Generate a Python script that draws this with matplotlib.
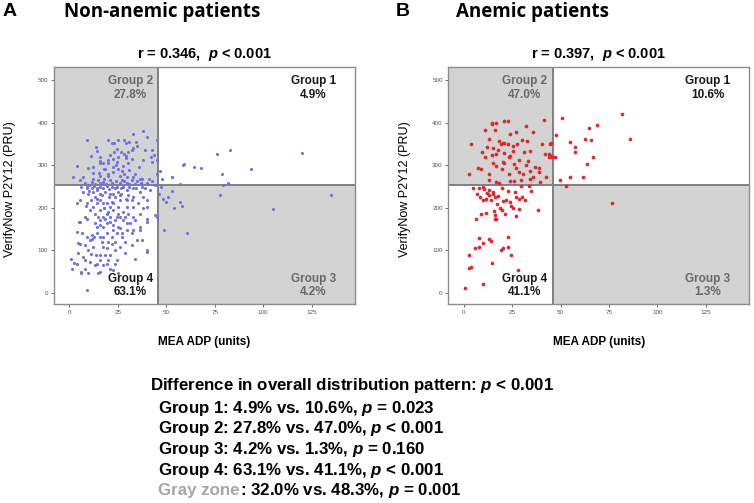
import matplotlib
matplotlib.use("Agg")
import matplotlib.pyplot as plt
from matplotlib.patches import Rectangle

plt.rcParams['font.family'] = ['Liberation Sans', 'DejaVu Sans']
plt.rcParams['mathtext.fontset'] = 'custom'
plt.rcParams['mathtext.it'] = 'Liberation Sans:italic:bold'
plt.rcParams['mathtext.rm'] = 'Liberation Sans:bold'
plt.rcParams['mathtext.bf'] = 'Liberation Sans:bold'

# ---------------- data ----------------
mea_cutoff = 46
pru_cutoff = 252
x_ticks = [0, 25, 50, 75, 100, 125]
y_ticks = [0, 100, 200, 300, 400, 500]

panel_letters = ["A", "B"]
panel_titles = ["Non-anemic patients", "Anemic patients"]
corr_r = ["0.346", "0.397"]
corr_p = ["< 0.001", "< 0.001"]
group_names = ["Group 1", "Group 2", "Group 3", "Group 4"]
nonanemic_pct = ["4.9%", "27.8%", "4.2%", "63.1%"]
anemic_pct = ["10.6%", "47.0%", "1.3%", "41.1%"]
x_label = "MEA ADP (units)"
y_label = "VerifyNow P2Y12 (PRU)"

# Non-anemic patients (MEA ADP, PRU)
nonanemic_g1 = [(46.8, 285), (48, 267), (53, 273), (59, 303), (64.2, 295), (68, 293), (76, 325),
                (82.9, 336), (79, 280), (81.9, 259), (93.8, 290), (119.9, 329), (57, 256), (79.5, 254),
                (52.8, 272), (58.9, 301)]
nonanemic_g2 = [(9.3, 359), (37.9, 381), (33, 373), (19.8, 359), (25.3, 359), (28.2, 359), (45.5, 359),
                (40, 367), (34.4, 355), (23.3, 351), (29.3, 351), (35, 345), (14.1, 334), (26.5, 331),
                (30.5, 331), (39, 335), (4.1, 297), (9.8, 294), (11.2, 321), (15.8, 304), (19.8, 312),
                (19.8, 304), (22.7, 315), (25.3, 318), (28.2, 326), (29.3, 317), (32.2, 315), (35.8, 296),
                (37.9, 312), (42.5, 308), (45.1, 312), (43.8, 323), (2, 272), (7.2, 271), (12.4, 282),
                (15.5, 282), (18, 268), (22.7, 284), (25.3, 292), (28, 280), (31, 288), (33.9, 280),
                (37.6, 268), (41, 268), (45.5, 280), (8, 258), (11.5, 261), (15, 264), (17.6, 261),
                (21, 266), (24.1, 263), (27, 266), (29.6, 258), (32.2, 264), (34.8, 263), (36.5, 268),
                (40, 258), (42.5, 263), (5.5, 266), (15.8, 274), (20, 274), (26, 274), (30, 271),
                (32.7, 272), (18.4, 292), (22.4, 296), (27.5, 297), (30.5, 304), (24.4, 308), (21, 323),
                (15.8, 309), (12.4, 296), (24.4, 339), (21.9, 351), (32.2, 335), (42.5, 335), (30.9, 355),
                (17.6, 304), (16, 258), (19, 256), (22, 259), (26, 257), (28, 262), (13, 256), (10, 254),
                (31, 256), (34, 255), (37, 257), (44, 254), (12, 268), (20, 280), (27, 285), (18, 290),
                (24, 300), (29, 322), (16, 318), (14, 342), (23, 330), (33, 340), (42, 320)]
nonanemic_g3 = [(46.5, 233), (53, 240), (51.1, 225), (50, 213), (57.1, 213), (58, 204), (54, 200),
                (77.9, 230), (105, 196), (134.9, 229), (49, 148), (60.9, 140), (47.1, 249), (48.5, 220)]
nonanemic_g4 = [(0.9, 80), (1.5, 56), (2.4, 70), (4.1, 68), (5.9, 49), (6, 45), (8.1, 76), (9.3, 7),
                (8.1, 56), (11, 90), (4.3, 117), (5.5, 115), (4.1, 143), (5.2, 165), (9, 173), (4.1, 211),
                (5.5, 219), (8.6, 204), (9.3, 211), (10.3, 238), (9.3, 245), (13.3, 225), (12.7, 250),
                (14.5, 241), (15.8, 217), (17.2, 210), (17.9, 198), (19.3, 186), (21, 202), (21.9, 213),
                (23.6, 225), (25.3, 202), (26.5, 233), (29.3, 221), (29.6, 241), (32.2, 217), (33, 202),
                (36.5, 237), (38.2, 225), (39, 245), (40, 202), (44.2, 182), (45.1, 178), (40, 174),
                (40, 166), (36.5, 155), (33.9, 170), (30.5, 184), (27.9, 170), (24.4, 178), (21, 166),
                (17.6, 155), (14.1, 155), (15.8, 170), (14.6, 178), (11.5, 127), (12.7, 131), (14.1, 139),
                (15.8, 131), (16.7, 119), (19.3, 139), (21.9, 131), (24.4, 139), (27, 131), (29.6, 147),
                (32.2, 139), (36.5, 147), (37.4, 123), (40, 100), (40, 96), (33.9, 80), (28.7, 93),
                (26.2, 108), (23.6, 100), (21, 88), (18.4, 88), (15.8, 88), (24.4, 76), (23.6, 68),
                (20.1, 76), (19.3, 68), (15.8, 49), (14.6, 45), (25.3, 45), (10.7, 123), (8.1, 111),
                (9.8, 100), (12.4, 108), (13.8, 88), (17.4, 108), (19.3, 104), (21.9, 115), (23.6, 119),
                (13.3, 186), (15.8, 194), (17.6, 178), (20.1, 190), (22.4, 194), (25.3, 186), (27.9, 190),
                (29.6, 202), (15.8, 233), (18.4, 237), (21, 233), (23.6, 245), (25.3, 237), (27.9, 249),
                (31, 249), (34.4, 245), (15.8, 249), (19.3, 250), (21.9, 249), (12.4, 237), (11.4, 217),
                (14.1, 210), (19.3, 210), (22.7, 210), (26.2, 217), (10.7, 194), (8.1, 178), (13.3, 163),
                (15.8, 159), (19.3, 163), (22.7, 159), (26.2, 151), (29.6, 163), (33, 178), (36.5, 186),
                (38.2, 198), (35.6, 210), (33, 225), (30.5, 229), (5.5, 167), (6.4, 139), (9, 131),
                (7.2, 84), (10.7, 72), (13.3, 64), (15.8, 76), (17.6, 64), (21, 56), (22.7, 53),
                (14.1, 68), (4.6, 92), (9.8, 45), (11.5, 135), (17.6, 131), (20.1, 119), (18.4, 174),
                (21, 178), (23.6, 170), (26.2, 178), (28.7, 178), (31.5, 163), (33, 147), (34.8, 123),
                (32.2, 111), (28.7, 119), (27, 139), (25.3, 155), (22.7, 147), (17.9, 198), (14.1, 221),
                (16.9, 229), (20.3, 225), (22.4, 233), (26, 229), (29.6, 217), (12.4, 202), (9.8, 233),
                (7.2, 237), (6.2, 249), (9, 249), (11.5, 245), (14.1, 246), (17.6, 245), (20.3, 243),
                (24.4, 249), (26.5, 245), (33, 245), (37.4, 249), (41.7, 241), (40, 217)]

# Anemic patients (MEA ADP, PRU)
anemic_g1 = [(47.8, 371), (54.7, 354), (57.6, 342), (57.6, 330), (64.7, 387), (68.6, 394), (62.6, 361),
             (65.5, 358), (66.7, 320), (63.5, 302), (85.7, 362), (61.8, 273), (54.7, 273), (49.7, 264),
             (81.7, 421), (50.7, 410), (47.0, 318)]
anemic_g2 = [(14.5, 396), (16.7, 400), (20.7, 404), (11, 382), (16.4, 382), (24, 374), (27, 377),
             (32, 392), (41.7, 406), (12.9, 361), (18.4, 357), (20.2, 351), (21, 353), (19.3, 349),
             (22.8, 349), (3.8, 349), (11.9, 343), (15, 341), (25.7, 344), (32.9, 357), (40.7, 349),
             (44.7, 349), (16.7, 327), (21, 329), (25.3, 334), (31, 331), (34, 334), (41.9, 326),
             (44.3, 327), (11, 318), (14.5, 323), (23.3, 319), (28.8, 312), (15, 305), (20.2, 308),
             (21, 304), (7.2, 294), (9, 290), (16.7, 298), (27, 294), (32.2, 300), (39.1, 294),
             (44.3, 319), (2.6, 278), (13.3, 280), (23.3, 279), (28.8, 284), (30.5, 280), (34.3, 287),
             (38.8, 283), (13, 265), (18.4, 258), (16.7, 261), (26.2, 263), (29.7, 265), (34, 267),
             (35.7, 272), (39.5, 261), (42.6, 272), (14.7, 400), (22.8, 403), (44.9, 351), (44.9, 321),
             (45.5, 318), (18, 336), (24, 322), (27.5, 350), (30, 360), (36, 378), (9.5, 330), (20, 290),
             (26, 302), (33, 310), (37, 296), (24, 262)]
anemic_g3 = [(52.6, 250), (76.8, 210)]
anemic_g4 = [(4.7, 246), (7.8, 247), (10.7, 243), (13, 241), (15, 237), (6.7, 232), (8.6, 225),
             (11.6, 221), (13.3, 229), (15, 233), (16.4, 224), (9.8, 218), (14.1, 218), (20.2, 216),
             (21.9, 218), (26.6, 236), (29.7, 250), (33.6, 251), (28.8, 221), (30.1, 225), (31.9, 218),
             (18.8, 199), (19.8, 194), (24.4, 203), (25.7, 199), (28.4, 197), (15.9, 193), (11.6, 188),
             (9, 185), (16, 182), (16.7, 174), (16.4, 172), (21.6, 184), (27, 180), (38.3, 194),
             (6.4, 172), (8.1, 129), (9.8, 117), (12.9, 127), (14.1, 122), (22.8, 130), (6, 105),
             (7.8, 107), (19.3, 101), (20.2, 105), (22.8, 107), (24.5, 88), (2.6, 88), (14.7, 70),
             (3.8, 60), (2.9, 57), (27.9, 53), (9.8, 21), (0.9, 11), (12, 235), (18, 228), (23, 240),
             (27, 226), (10, 248), (20, 246), (35, 240), (24, 213), (17, 208)]

summary_header = "Difference in overall distribution pattern: $p$ < 0.001"
summary_lines = ["Group 1: 4.9% vs. 10.6%, $p$ = 0.023",
                 "Group 2: 27.8% vs. 47.0%, $p$ < 0.001",
                 "Group 3: 4.2% vs. 1.3%, $p$ = 0.160",
                 "Group 4: 63.1% vs. 41.1%, $p$ < 0.001"]
gray_zone_label = "Gray zone"
gray_zone_rest = ": 32.0% vs. 48.3%, $p$ = 0.001"

# ---------------- figure ----------------
W, H = 754, 503
fig = plt.figure(figsize=(W / 100, H / 100), dpi=100)
fig.patch.set_facecolor("white")

def fx(px):
    return px / W

def fy(py):
    return 1 - py / H

XLIM = (-7.9, 147.4)
YLIM = (-27, 531)
GRAY = "#d3d3d3"

panels = [
    dict(left=54, groups=[nonanemic_g1, nonanemic_g2, nonanemic_g3, nonanemic_g4],
         pct=nonanemic_pct, color="#7070e6", size=5, letter_x=4, title_x=64),
    dict(left=448.3, groups=[anemic_g1, anemic_g2, anemic_g3, anemic_g4],
         pct=anemic_pct, color="#e3262b", size=7, letter_x=397, title_x=456),
]

for i, p in enumerate(panels):
    ax = fig.add_axes([fx(p["left"]), fy(304), 301 / W, 237 / H])
    ax.set_xlim(*XLIM)
    ax.set_ylim(*YLIM)
    # quadrant shading
    ax.add_patch(Rectangle((XLIM[0], pru_cutoff), mea_cutoff - XLIM[0], YLIM[1] - pru_cutoff,
                           facecolor=GRAY, edgecolor="none", zorder=0))
    ax.add_patch(Rectangle((mea_cutoff, YLIM[0]), XLIM[1] - mea_cutoff, pru_cutoff - YLIM[0],
                           facecolor=GRAY, edgecolor="none", zorder=0))
    ax.axvline(mea_cutoff, color="#808080", lw=1.4, zorder=1)
    ax.axhline(pru_cutoff, color="#808080", lw=1.4, zorder=1)

    xs = [pt[0] for g in p["groups"] for pt in g]
    ys = [pt[1] for g in p["groups"] for pt in g]
    ax.scatter(xs, ys, s=p["size"], color=p["color"], linewidths=0, zorder=3)

    for sp in ax.spines.values():
        sp.set_color("#8c8c8c")
        sp.set_linewidth(1.0)
    ax.set_xticks(x_ticks)
    ax.set_yticks(y_ticks)
    ax.tick_params(direction="out", length=2.5, width=0.6, colors="#555555",
                   labelsize=4.5, pad=1.5)

    # group labels
    lab = dict(fontsize=8.5, fontweight="bold", multialignment="center", ha="right", zorder=4)
    ax.text(137.5, 512, f"{group_names[0]}\n{p['pct'][0]}", va="top", color="#1a1a1a", **lab)
    ax.text(43, 512, f"{group_names[1]}\n{p['pct'][1]}", va="top", color="#686868", **lab)
    ax.text(137.5, -14, f"{group_names[2]}\n{p['pct'][2]}", va="bottom", color="#686868", **lab)
    ax.text(43, -14, f"{group_names[3]}\n{p['pct'][3]}", va="bottom", color="#1a1a1a", **lab)

    # title
    ax.set_title(f"r = {corr_r[i]},  $p$ {corr_p[i]}", fontsize=10.5, fontweight="bold", pad=6.8)

    # axis labels
    cx = p["left"] + 150.5
    fig.text(fx(cx), fy(342), x_label, fontsize=8.5, fontweight="bold", ha="center", va="center")
    fig.text(fx(p["left"] - 43.5), fy(189), y_label, fontsize=9, rotation=90,
             ha="center", va="center")

    # panel header
    fig.text(fx(p["letter_x"] + 6), fy(12), panel_letters[i], fontsize=14, fontweight="bold",
             ha="center", va="center")
    fig.text(fx(p["title_x"]), fy(12), panel_titles[i], family=["Open Sans", "DejaVu Sans"],
             fontsize=13.5, fontweight="bold", ha="left", va="center")

# summary text
fig.text(fx(150), fy(390), summary_header, fontsize=12.2, fontweight="bold", va="baseline")
baselines = [412.5, 433, 454, 474.5]
for line, b in zip(summary_lines, baselines):
    fig.text(fx(158), fy(b), line, fontsize=12.2, fontweight="bold", va="baseline")
t1 = fig.text(fx(158), fy(495), gray_zone_label, fontsize=12.2, fontweight="bold",
              va="baseline", color="#a6a6a6")
fig.canvas.draw()
ext = t1.get_window_extent(fig.canvas.get_renderer())
fig.text(ext.x1 / W, fy(495), gray_zone_rest, fontsize=12.2, fontweight="bold", va="baseline")

fig.savefig("out.png", dpi=100, facecolor="white")
